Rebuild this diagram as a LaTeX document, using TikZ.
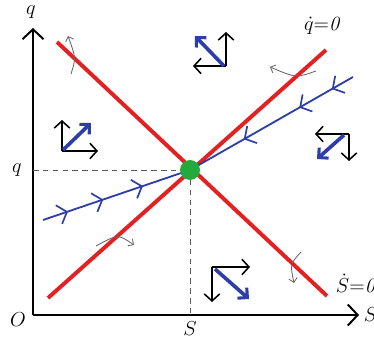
\documentclass[tikz,border=0pt]{standalone}
\usetikzlibrary{arrows.meta,decorations.markings}
\definecolor{nullred}{RGB}{228,32,32}
\definecolor{pathblue}{RGB}{45,62,170}
\definecolor{eqgreen}{RGB}{34,170,60}
\tikzset{
  axis/.style={line width=1.7pt,-{Straight Barb[length=7pt,width=15pt,line width=1.4pt]}},
  nullcline/.style={line width=2.8pt,nullred},
  saddlepath/.style={line width=1.3pt,pathblue},
  dirarrow/.style={line width=1.1pt,-{Straight Barb[length=5pt,width=11pt,line width=1.1pt]}},
  bluearrow/.style={line width=2.6pt,pathblue,-{Straight Barb[length=5pt,width=10pt,line width=2.2pt]}},
  flowarrow/.style={black!60,line width=0.6pt,-{Straight Barb[length=3pt,width=6pt,line width=0.6pt]}},
  guide/.style={dash pattern=on 4pt off 3pt,black!65,line width=0.7pt},
  lbl/.style={font=\Large}
}
\begin{document}
\begin{tikzpicture}[x=0.025cm,y=-0.025cm]
		\useasboundingbox (0,0) rectangle (374,339);
		\coordinate (O) at (33,315);
		\coordinate (E) at (190,170);
		
		% Axes
		\draw[axis] (O) -- (33,28) coordinate (qtop);
		\draw[axis] (O) -- (359,315) coordinate (Sright);
		\node[lbl] (Olab) at (18,320) {$O$};
		\node[lbl] (qlab) at (31,12) {$q$};
		\node[lbl,anchor=west] (Slab) at (Sright) {$S$};
		
		% Steady state levels
		\draw[guide] (O |- E) -- (E);
		\draw[guide] (E) -- (E |- O);
		\node[lbl] (qstar) at (17,170) {$q$};
		\node[lbl] (Sstar) at (190,329) {$S$};
		
		% Nullclines
		\draw[nullcline] (57,42) -- (327,296);
		\draw[nullcline] (48,298) -- (326,50);
		\node[lbl] (qdot) at (323,26) {$\dot{q}{=}\mathit{0}$};
		\node[lbl,anchor=west] (Sdot) at (331,283) {$\dot{S}{=}\mathit{0}$};
		
		% Saddle path
		\draw[saddlepath,postaction={decorate},decoration={markings,
			mark=at position 0.17 with {\arrow{Straight Barb[length=6pt,width=14pt,line width=1.2pt]}},
			mark=at position 0.41 with {\arrow{Straight Barb[length=6pt,width=14pt,line width=1.2pt]}},
			mark=at position 0.68 with {\arrow{Straight Barb[length=6pt,width=14pt,line width=1.2pt]}}}]
			(43,220) -- (E);
		\draw[saddlepath,postaction={decorate},decoration={markings,
			mark=at position 0.13 with {\arrow{Straight Barb[length=6pt,width=14pt,line width=1.2pt]}},
			mark=at position 0.33 with {\arrow{Straight Barb[length=6pt,width=14pt,line width=1.2pt]}},
			mark=at position 0.67 with {\arrow{Straight Barb[length=6pt,width=14pt,line width=1.2pt]}}}]
			(353,77) -- (E);
		\fill[eqgreen] (E) circle (10);
		
		% Motion across the nullclines
		\draw[flowarrow] (71,74) .. controls (76,58) .. (68,36);
		\draw[flowarrow] (316,71) .. controls (296,78) .. (270,67);
		\draw[flowarrow] (96,246) .. controls (118,234) .. (134,245);
		\draw[flowarrow] (301,252) .. controls (290,264) .. (294,283);
		
		% Directions of motion in each region
		\draw[dirarrow] (62,151) -- (62,120);
		\draw[dirarrow] (62,151) -- (98,151);
		\draw[bluearrow] (63,150) -- (91,123);
		
		\draw[dirarrow] (226,66) -- (226,32);
		\draw[dirarrow] (226,66) -- (193,66);
		\draw[bluearrow] (224,66) -- (195,36);
		
		\draw[dirarrow] (349,134) -- (315,134);
		\draw[dirarrow] (349,134) -- (349,161);
		\draw[bluearrow] (344,135) -- (317,159);
		
		\draw[dirarrow] (212,267) -- (250,267);
		\draw[dirarrow] (212,267) -- (212,302);
		\draw[bluearrow] (215,269) -- (249,299);
	\end{tikzpicture}
\end{document}
